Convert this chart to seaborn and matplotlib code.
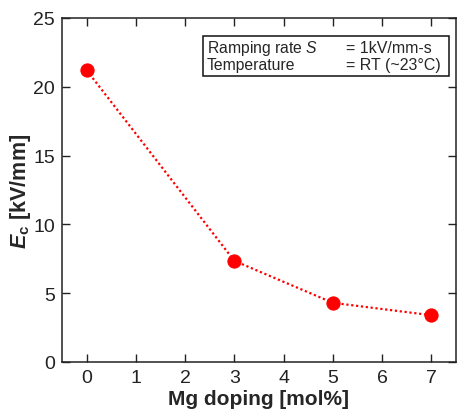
import matplotlib
matplotlib.use("Agg")
import matplotlib.pyplot as plt
import pandas as pd
import seaborn as sns
from matplotlib.patches import Rectangle

# Data
mg_doping = [0, 3, 5, 7]
ec_kv_mm = [21.2, 7.35, 4.3, 3.4]
x_ticks = [0, 1, 2, 3, 4, 5, 6, 7]
y_ticks = [0, 5, 10, 15, 20, 25]
box_left = ["Ramping rate $\\mathit{S}$", "Temperature"]
box_right = ["= 1kV/mm-s", "= RT (~23°C)"]

df = pd.DataFrame({"mg": mg_doping, "ec": ec_kv_mm})

sns.set_theme(style="ticks")
plt.rcParams["font.family"] = ["Liberation Sans", "DejaVu Sans"]
plt.rcParams["mathtext.fontset"] = "custom"
plt.rcParams["mathtext.rm"] = "Liberation Sans"
plt.rcParams["mathtext.it"] = "Liberation Sans:italic"
plt.rcParams["mathtext.bf"] = "Liberation Sans:bold"
plt.rcParams["mathtext.bfit"] = "Liberation Sans:italic:bold"

fig = plt.figure(figsize=(4.57, 4.14), dpi=100)
ax = fig.add_axes([0.1357, 0.1232, 0.862, 0.8310])

sns.lineplot(
    data=df, x="mg", y="ec", ax=ax,
    color="#ff0000", linestyle=(0, (1, 1.2)), linewidth=1.6,
    marker="o", markersize=9.5, markeredgecolor="#ff0000",
)

ax.set_xlim(-0.5, 7.5)
ax.set_ylim(0, 25)
ax.set_xticks(x_ticks)
ax.set_yticks(y_ticks)
ax.tick_params(direction="in", length=6, width=1, labelsize=14,
               top=True, right=True, colors="#222222", pad=5)
for s in ax.spines.values():
    s.set_linewidth(1.1)
    s.set_color("#222222")

ax.set_xlabel("Mg doping [mol%]", fontsize=15, fontweight="bold", labelpad=2)
ax.set_ylabel("$\\mathbfit{E}_\\mathbf{c}$ [kV/mm]", fontsize=15.5,
              fontweight="bold", labelpad=0)

# Info box
ax.add_patch(Rectangle((0.357, 0.831), 0.625, 0.117, transform=ax.transAxes,
                       fill=False, edgecolor="#111111", linewidth=1.1, zorder=5))
for i, (l, r) in enumerate(zip(box_left, box_right)):
    yy = 0.913 - i * 0.047
    ax.text(0.367, yy, l, transform=ax.transAxes, fontsize=11.3, va="center")
    ax.text(0.722, yy, r, transform=ax.transAxes, fontsize=11.5, va="center")

fig.savefig("out.png", dpi=100)
